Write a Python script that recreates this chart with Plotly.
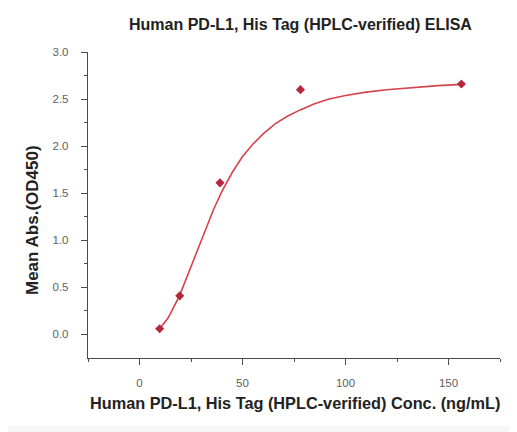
import plotly.graph_objects as go

# Measured data points (concentration ng/mL, mean OD450)
conc = [9.77, 19.53, 39.06, 78.125, 156.25]
od450 = [0.06, 0.41, 1.61, 2.60, 2.66]

# Fitted curve
curve_x = [9.5, 14, 19.4, 24, 28, 32, 36, 40, 45, 50, 55, 60, 66, 72, 78, 85, 92, 100, 110, 120, 132, 145, 156.25]
curve_y = [0.05, 0.18, 0.41, 0.67, 0.90, 1.12, 1.33, 1.52, 1.72, 1.89, 2.02, 2.13, 2.24, 2.32, 2.385,
           2.45, 2.50, 2.538, 2.574, 2.599, 2.623, 2.643, 2.656]

x_ticks = [0, 50, 100, 150]
x_minor = [-25, 25, 75, 125, 175]
y_ticks = [0.0, 0.5, 1.0, 1.5, 2.0, 2.5, 3.0]
y_minor = [0.25, 0.75, 1.25, 1.75, 2.25, 2.75]

title_text = "Human PD-L1, His Tag (HPLC-verified) ELISA"
x_title = "Human PD-L1, His Tag (HPLC-verified) Conc. (ng/mL)"
y_title = "Mean Abs.(OD450)"

# the page puts the figure at an 8px offset, so the figure itself is 509x424
W, H = 509, 424
ML, MR, MT, MB = 80, 17, 44, 74
pw, ph = W - ML - MR, H - MT - MB

FONT = "Liberation Sans"
AX = "#4a4a4a"

fig = go.Figure()
fig.add_trace(go.Scatter(x=curve_x, y=curve_y, mode="lines",
                         line=dict(color="#d6434c", width=1.6, shape="linear"),
                         hoverinfo="skip", showlegend=False))
fig.add_trace(go.Scatter(x=conc, y=od450, mode="markers",
                         marker=dict(symbol="diamond", size=7, color="#b3283a"),
                         showlegend=False))


def px_x(p):
    return (p - ML) / pw


def px_y(p):
    return 1 - (p - MT) / ph


# white panel, light grey strip at right and bottom
fig.add_shape(type="rect", xref="paper", yref="paper",
              x0=px_x(0), x1=px_x(502), y0=px_y(418), y1=px_y(0),
              fillcolor="white", line=dict(width=0), layer="below")

fig.add_annotation(text="<b>" + title_text + "</b>", xref="paper", yref="paper",
                   x=px_x(292), y=px_y(16), xanchor="center", yanchor="middle", showarrow=False,
                   font=dict(family=FONT, size=16, color="#222222"))
fig.add_annotation(text="<b>" + x_title + "</b>", xref="paper", yref="paper",
                   x=px_x(287), y=px_y(395), xanchor="center", yanchor="middle", showarrow=False,
                   font=dict(family=FONT, size=16.3, color="#222222"))
fig.add_annotation(text="<b>" + y_title + "</b>", xref="paper", yref="paper",
                   x=px_x(24), y=px_y(212), xanchor="center", yanchor="middle", showarrow=False,
                   textangle=-90, font=dict(family=FONT, size=17, color="#222222"))

axis_common = dict(showline=True, linecolor=AX, linewidth=1.4,
                   ticks="outside", ticklen=6, tickwidth=1.2, tickcolor=AX,
                   showgrid=False, zeroline=False, automargin=False,
                   tickfont=dict(family=FONT, size=11.5, color="#606060"))

fig.update_layout(
    width=W, height=H,
    margin=dict(l=ML, r=MR, t=MT, b=MB, autoexpand=False),
    paper_bgcolor="#f6f6f6", plot_bgcolor="white",
    xaxis=dict(range=[-25, 175], tickvals=x_ticks,
               minor=dict(tickvals=x_minor, ticklen=3, tickcolor=AX, ticks="outside"),
               ticklabelstandoff=8, **axis_common),
    yaxis=dict(range=[-0.25, 3.0], tickvals=y_ticks, tickformat=".1f",
               minor=dict(tickvals=y_minor, ticklen=3, tickcolor=AX, ticks="outside"),
               ticklabelstandoff=10, **axis_common),
)

fig.write_html("out.html")
